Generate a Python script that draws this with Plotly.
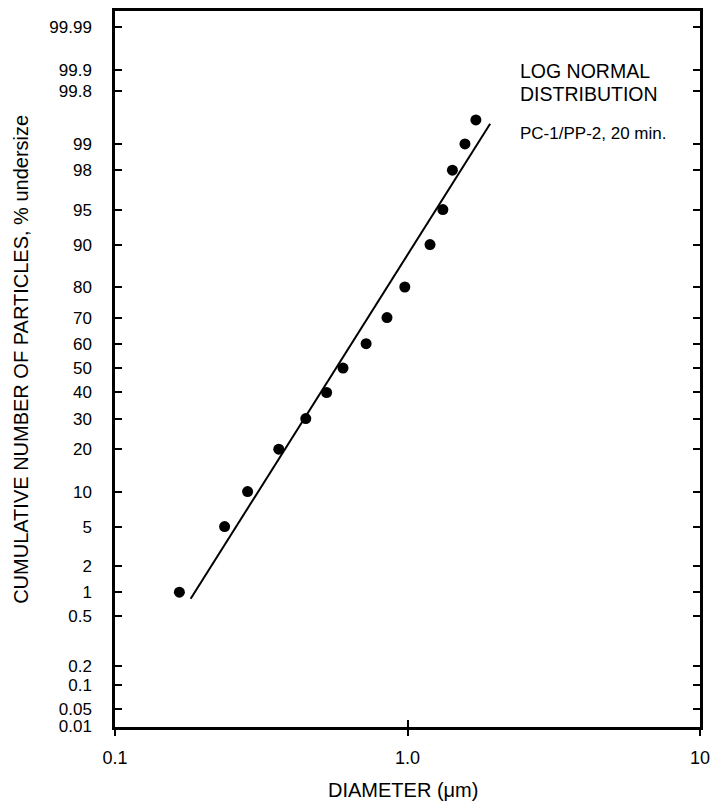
import math
import plotly.graph_objects as go

# ---- data ----
diameter_um = [0.166, 0.237, 0.284, 0.363, 0.449, 0.529, 0.602, 0.722,
               0.851, 0.979, 1.194, 1.321, 1.424, 1.572, 1.713]
cum_pct = [1, 5, 10, 20, 30, 40, 50, 60, 70, 80, 90, 95, 98, 99, 99.5]

fit_diameter = [0.1814, 1.917]
fit_pct = [0.833, 99.44]

y_tick_labels = ["0.01", "0.05", "0.1", "0.2", "0.5", "1", "2", "5", "10", "20",
                 "30", "40", "50", "60", "70", "80", "90", "95", "98", "99",
                 "99.8", "99.9", "99.99"]
# percent position at which each label sits on the printed probability grid
y_tick_at_pct = [0.01, 0.02, 0.05, 0.1, 0.5, 1, 2, 5, 10, 20,
                 30, 40, 50, 60, 70, 80, 90, 95, 98, 99,
                 99.8, 99.9, 99.98]
x_tick_vals = [0.1, 1, 10]
x_tick_labels = ["0.1", "1.0", "10"]


def probit(pct):
    """Inverse standard normal CDF of a percentage (probability-paper scale)."""
    p = pct / 100.0
    lo, hi = -10.0, 10.0
    for _ in range(200):
        mid = 0.5 * (lo + hi)
        if 0.5 * (1 + math.erf(mid / math.sqrt(2))) < p:
            lo = mid
        else:
            hi = mid
    return 0.5 * (lo + hi)


FONT = "Liberation Sans, Arial, Helvetica, sans-serif"

fig = go.Figure()
fig.add_trace(go.Scatter(
    x=fit_diameter, y=[probit(v) for v in fit_pct], mode="lines",
    line=dict(color="black", width=2), showlegend=False, hoverinfo="skip"))
fig.add_trace(go.Scatter(
    x=diameter_um, y=[probit(v) for v in cum_pct], mode="markers",
    marker=dict(color="black", size=11), showlegend=False))
# invisible trace to anchor the second (inside-tick) x axis
fig.add_trace(go.Scatter(x=[1], y=[0], xaxis="x2", mode="markers",
                         marker=dict(opacity=0), showlegend=False,
                         hoverinfo="skip"))

fig.update_layout(
    width=718, height=807,
    margin=dict(l=115, r=13, t=8, b=80),
    paper_bgcolor="white", plot_bgcolor="white",
    font=dict(family=FONT, color="black"),
    xaxis=dict(type="log", range=[-1, 1], tickvals=x_tick_vals,
               ticktext=x_tick_labels, ticks="outside", ticklen=6,
               tickwidth=1.5, tickcolor="black", showgrid=False,
               zeroline=False, showline=True, linecolor="black",
               linewidth=2.5, mirror=True,
               tickfont=dict(size=18, family=FONT, color="black"),
               ticklabelstandoff=7),
    xaxis2=dict(type="log", range=[-1, 1], tickvals=x_tick_vals,
                overlaying="x", anchor="y", side="bottom",
                ticks="inside", ticklen=7, tickwidth=1.5, tickcolor="black",
                showticklabels=False, showgrid=False, zeroline=False,
                showline=False),
    yaxis=dict(range=[probit(0.01) - 0.006, 3.706],
               tickvals=[probit(v) for v in y_tick_at_pct],
               ticktext=y_tick_labels, ticks="inside", ticklen=7,
               tickwidth=1.5, tickcolor="black", showgrid=False,
               zeroline=False, showline=True, linecolor="black",
               linewidth=2.5, mirror="ticks",
               tickfont=dict(size=17, family=FONT, color="black"),
               ticklabelstandoff=17),
)

fig.add_annotation(text="CUMULATIVE NUMBER OF PARTICLES, % undersize",
                   xref="paper", yref="paper", x=(20 - 115) / 590,
                   y=(727 - 357.5) / 719, textangle=-90, showarrow=False,
                   xanchor="center", yanchor="middle",
                   font=dict(size=20, family=FONT, color="black"))
fig.add_annotation(text="DIAMETER (\u03bcm)", xref="paper", yref="paper",
                   x=(405 - 115) / 590, y=(727 - 790) / 719, showarrow=False,
                   xanchor="center", yanchor="middle",
                   font=dict(size=20, family=FONT, color="black"))
fig.add_annotation(text="LOG NORMAL", xref="paper", yref="paper",
                   x=(521 - 115) / 590, y=(727 - 68.5) / 719, showarrow=False,
                   xanchor="left", yanchor="middle",
                   font=dict(size=19.5, family=FONT, color="black"))
fig.add_annotation(text="DISTRIBUTION", xref="paper", yref="paper",
                   x=(521 - 115) / 590, y=(727 - 91.5) / 719, showarrow=False,
                   xanchor="left", yanchor="middle",
                   font=dict(size=19.5, family=FONT, color="black"))
fig.add_annotation(text="PC-1/PP-2, 20 min.", xref="paper", yref="paper",
                   x=(521 - 115) / 590, y=(727 - 131.5) / 719, showarrow=False,
                   xanchor="left", yanchor="middle",
                   font=dict(size=17, family=FONT, color="black"))

fig.write_html("out.html")
